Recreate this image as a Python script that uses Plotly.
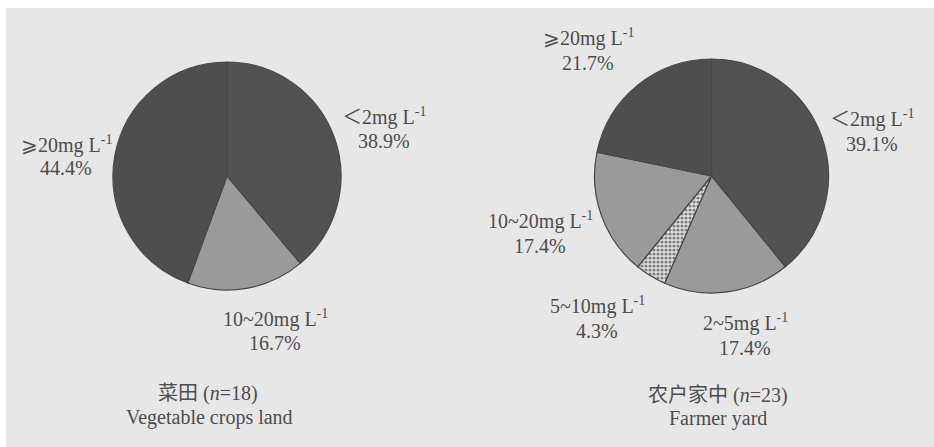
import plotly.graph_objects as go

W, H = 934, 447

# Vegetable crops land (n=18)
veg_labels = ["＜2mg L<sup>-1</sup>", "10~20mg L<sup>-1</sup>", "⩾20mg L<sup>-1</sup>"]
veg_values = [38.9, 16.7, 44.4]
veg_colors = ["#525252", "#9a9a9a", "#4e4e4e"]

# Farmer yard (n=23)
farm_labels = ["＜2mg L<sup>-1</sup>", "2~5mg L<sup>-1</sup>", "5~10mg L<sup>-1</sup>",
               "10~20mg L<sup>-1</sup>", "⩾20mg L<sup>-1</sup>"]
farm_values = [39.1, 17.4, 4.3, 17.4, 21.7]
farm_colors = ["#525252", "#9a9a9a", "#e2e2e2", "#9a9a9a", "#4e4e4e"]
farm_patterns = ["", "", ".", "", ""]

TEXT = "#4d4d4d"
SERIF = "Liberation Serif, DejaVu Serif, Noto Sans CJK SC"
BG = "#e7e7e7"
EDGE = "#474747"


def px_domain(cx, cy, r):
    return dict(x=[(cx - r) / W, (cx + r) / W], y=[1 - (cy + r) / H, 1 - (cy - r) / H])


def ann(text, x, y, size=20):
    return dict(text=text, x=x / W, y=1 - y / H, xref="paper", yref="paper",
                xanchor="center", yanchor="middle", showarrow=False,
                font=dict(family=SERIF, size=size, color=TEXT))


fig = go.Figure()

fig.add_trace(go.Pie(
    labels=veg_labels, values=veg_values, sort=False, direction="clockwise",
    rotation=0, textinfo="none", hoverinfo="label+percent", showlegend=False,
    marker=dict(colors=veg_colors, line=dict(color=EDGE, width=1.2)),
    domain=px_domain(227, 176, 114),
))

fig.add_trace(go.Pie(
    labels=farm_labels, values=farm_values, sort=False, direction="clockwise",
    rotation=0, textinfo="none", hoverinfo="label+percent", showlegend=False,
    marker=dict(colors=farm_colors, line=dict(color=EDGE, width=1.2),
                pattern=dict(shape=farm_patterns, fgcolor="#7e7e7e",
                             bgcolor="#e2e2e2", size=4, solidity=0.5,
                             fillmode="replace")),
    domain=px_domain(711.5, 176, 117),
))

annotations = []

# label positions (pixel centres of the two text lines) for each slice
veg_pos = [(384, 117, 141), (275, 318, 343), (66, 144, 168)]
farm_pos = [(872, 118, 144), (745, 322, 348), (597, 305, 331),
            (540, 220, 246), (588, 37, 63)]

for lab, val, (x, y1, y2) in zip(veg_labels, veg_values, veg_pos):
    annotations.append(ann(lab, x, y1))
    annotations.append(ann(f"{val:.1f}%", x, y2))

for lab, val, (x, y1, y2) in zip(farm_labels, farm_values, farm_pos):
    annotations.append(ann(lab, x, y1))
    annotations.append(ann(f"{val:.1f}%", x, y2))

annotations.append(ann("菜田 (<i>n</i>=18)", 208, 393, 20))
annotations.append(ann("Vegetable crops land", 209, 417, 20))
annotations.append(ann("农户家中 (<i>n</i>=23)", 718, 395, 20))
annotations.append(ann("Farmer yard", 718, 418, 20))

fig.update_layout(
    width=W, height=H,
    margin=dict(l=0, r=0, t=0, b=0),
    paper_bgcolor="white", plot_bgcolor="white",
    annotations=annotations,
    shapes=[dict(type="rect", xref="paper", yref="paper", layer="below",
                 x0=6 / W, x1=1, y0=0, y1=1 - 8 / H,
                 fillcolor=BG, line=dict(width=0))],
)

fig.write_html("out.html")
